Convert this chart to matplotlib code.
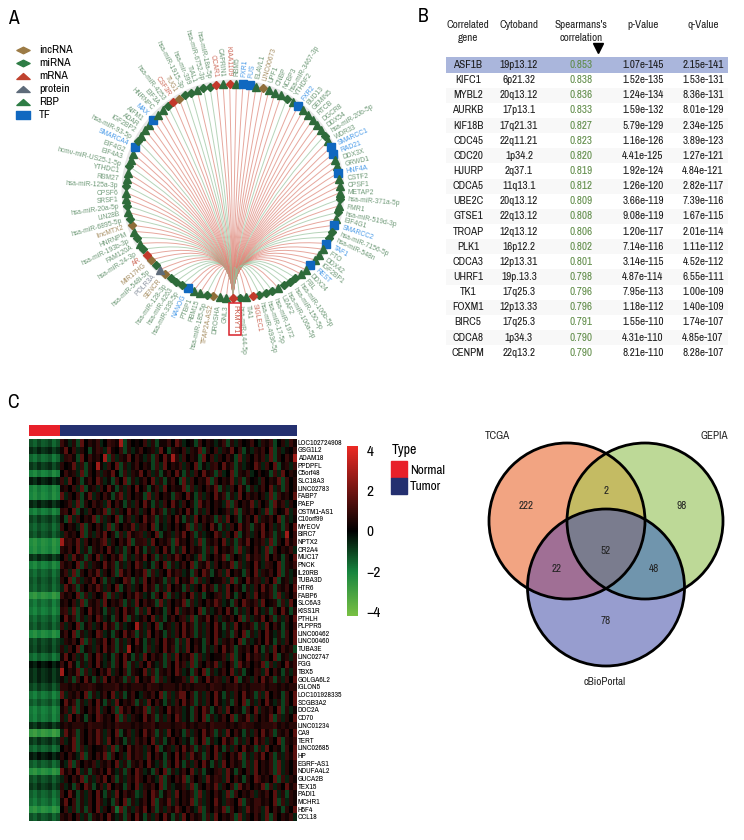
"""Four-panel PKMYT1 figure: network circle, correlation table, heatmap, Venn."""
import numpy as np
import matplotlib
matplotlib.use("Agg")
import matplotlib.pyplot as plt
from matplotlib.colors import LinearSegmentedColormap, ListedColormap, Normalize
from matplotlib.patches import Circle, PathPatch, Rectangle
from matplotlib.path import Path

NARROW = ["Archivo Narrow", "Liberation Sans Narrow", "Liberation Sans", "DejaVu Sans"]
ARIAL = ["Liberation Sans", "DejaVu Sans"]
plt.rcParams["font.family"] = NARROW
import logging
logging.getLogger("matplotlib.font_manager").setLevel(logging.ERROR)

# panel A: nodes clockwise from the hub at the bottom
HUB = "PKMYT1"
NODES = [
    "GNL3", "DROSHA", "TFAP2A-AS2", "hsa-miR-185-5p", "RBM15", "PTBP1", "NANOG",
    "hsa-miR-339-5p", "hsa-miR-4263", "hsa-miR-128-3p", "SENCR", "POLR3A",
    "hsa-miR-548i-5p", "MIR17HG", "AR", "hsa-miR-24-3p", "FAM120A",
    "hsa-miR-193b-3p", "HNRNPM", "lincMTX2", "hsa-miR-6895-5p", "LIN28B",
    "hsa-miR-20a-5p", "SRSF1", "CPSF6", "hsa-miR-125a-3p", "RBM27", "YTHDC1",
    "hcmv-miR-US25-1-5p", "EIF4A3", "EIF4G2", "SMARCA4", "hsa-miR-93-5p",
    "IGF2BP2", "ADAR", "AIFM1", "MAX", "HNRNPC", "EIF3A", "hsa-miR-4253",
    "CSF3R", "TUG1", "hsa-miR-1915-3p", "hsa-mir-399", "TIAL1",
    "hsa-miR-6752-3p", "hsa-miR-18a-5p", "CCAR1", "CAPRIN1", "KIAA1109", "RBM5",
    "FXR1", "FUS", "ELAVL1", "LINC00673", "UPF1", "CNBP", "NCBP3",
    "hsa-miR-3467-3p", "YTHDF2", "FXR2", "BUD13", "GEMIN5", "RTCB", "DGCR8",
    "DDX54", "hsa-miR-20b-5p", "WDR33", "SMARCC1", "RAD21", "DDX3X", "GRWD1",
    "HNF4A", "CSTF2", "CPSF1", "METAP2", "hsa-miR-371a-5p", "FMR1",
    "hsa-miR-519d-3p", "EIF4G1", "SMARCC2", "hsa-miR-7156-5p", "hsa-miR-548n",
    "TAF1", "FTO", "DDX42", "IGF2BP1", "REST", "DDX24", "FBL", "hsa-miR-106b-5p",
    "hsa-miR-150-5p", "hsa-miR-106a-5p", "U2AF2", "hsa-miR-1972", "hsa-miR-17-5p",
    "hsa-miR-4936-5p", "SIGLEC1", "TIA1", "hsa-miR-144-5p",
]
TF_NAMES = {"NANOG", "SMARCA4", "MAX", "FXR1", "FUS", "FXR2", "SMARCC1", "RAD21",
            "HNF4A", "SMARCC2", "TAF1", "REST"}
MRNA_NAMES = {"AR", "CSF3R", "CCAR1", "KIAA1109", "SIGLEC1"}
LNC_NAMES = {"TFAP2A-AS2", "SENCR", "MIR17HG", "lincMTX2", "TUG1", "LINC00673"}
PROTEIN_NAMES = {"POLR3A"}
LEGEND_NAMES = ["incRNA", "miRNA", "mRNA", "protein", "RBP", "TF"]

# panel B
TABLE_HEADERS = [("Correlated", "gene"), ("Cytoband", ""), ("Spearmans's", "correlation"),
                 ("p-Value", ""), ("q-Value", "")]
GENES = ["ASF1B", "KIFC1", "MYBL2", "AURKB", "KIF18B", "CDC45", "CDC20", "HJURP", "CDCA5",
         "UBE2C", "GTSE1", "TROAP", "PLK1", "CDCA3", "UHRF1", "TK1", "FOXM1", "BIRC5",
         "CDCA8", "CENPM"]
CYTOBANDS = ["19p13.12", "6p21.32", "20q13.12", "17p13.1", "17q21.31", "22q11.21", "1p34.2",
             "2q37.1", "11q13.1", "20q13.12", "22q13.12", "12q13.12", "16p12.2", "12p13.31",
             "19p.13.3", "17q25.3", "12p13.33", "17q25.3", "1p34.3", "22q13.2"]
SPEARMAN = [0.853, 0.838, 0.836, 0.833, 0.827, 0.823, 0.820, 0.819, 0.812, 0.809,
            0.808, 0.806, 0.802, 0.801, 0.798, 0.796, 0.796, 0.791, 0.790, 0.790]
P_VALUES = ["1.07e-145", "1.52e-135", "1.24e-134", "1.59e-132", "5.79e-129", "1.16e-126",
            "4.41e-125", "1.92e-124", "1.26e-120", "3.66e-119", "9.08e-119", "1.20e-117",
            "7.14e-116", "3.14e-115", "4.87e-114", "7.95e-113", "1.18e-112", "1.55e-110",
            "4.31e-110", "8.21e-110"]
Q_VALUES = ["2.15e-141", "1.53e-131", "8.36e-131", "8.01e-129", "2.34e-125", "3.89e-123",
            "1.27e-121", "4.84e-121", "2.82e-117", "7.39e-116", "1.67e-115", "2.01e-114",
            "1.11e-112", "4.52e-112", "6.55e-111", "1.00e-109", "1.40e-109", "1.74e-107",
            "4.85e-107", "8.28e-107"]

# panel C
HEAT_GENES = ["LOC102724908", "GSG1L2", "ADAM18", "PPDPFL", "C5orf48", "SLC18A3", "LINC02783",
              "FABP7", "PAEP", "OSTM1-AS1", "C10orf99", "MYEOV", "BIRC7", "NPTX2", "OR2A4",
              "MUC17", "PNCK", "IL20RB", "TUBA3D", "HTR6", "FABP6", "SLC6A3", "KISS1R", "PTHLH",
              "PLPPR5", "LINC00462", "LINC00460", "TUBA3E", "LINC02747", "FGG", "TBX5",
              "GOLGA6L2", "IGLON5", "LOC101928335", "SCGB3A2", "DOC2A", "CD70", "LINC01234",
              "CA9", "TERT", "LINC02685", "HP", "EGRF-AS1", "NDUFA4L2", "GUCA2B", "TEX15",
              "PADI1", "MCHR1", "H5F4", "CCL18"]
NORMAL_LEVEL = [-1.3, -0.7, -1.6, -0.9, -2.0, -0.5, -2.0, -2.1, -0.6, -1.9,
                -1.1, -1.4, -1.2, -2.3, -2.2, -0.8, -2.0, -1.5, -1.3, -1.4,
                -2.5, -1.7, -1.9, -1.5, -1.3, -2.2, -1.1, -1.0, -1.6, -0.3,
                -0.7, -0.7, -1.1, -1.8, -1.4, -1.9, -1.8, -0.7, -2.7, -0.9,
                -1.5, -0.4, -1.4, -2.4, -1.2, -0.9, -1.5, -1.7, -2.4, -1.3]
NORMAL_SAMPLE_SHIFT = [0.1, -0.2, 0.25, -0.1, 0.05, 0.3, -0.25, 0.15]
# tumour cells read by eye, one digit per cell, see TUMOR_SCALE
TUMOR_SCALE = [-2.4, -1.6, -1.0, -0.5, 0.0, 0.35, 0.7, 1.0, 1.6, 2.8]
TUMOR_CELLS = [
    "7536284657 3476592645 4736255748 6345274653 5726364574 3657246375",
    "5847364257 6385472635 7456384265 4736582647 3658472536 5748263547",
    "3675284756 4927365847 5362748596 3746528473 6475283647 5738264759",
    "6458372649 5374826357 4652738465 7364825367 4857263548 6374825637",
    "4756382647 3658427365 8473625748 5263748562 7348265734 6452738465",
    "7384625748 6352748263 5748362574 2837465827 4658372645 3746582746",
    "5647382563 7485263748 4625738465 5827364758 2637485263 5748362746",
    "8364725836 4752683746 5283746527 6485273648 5726384756 4638275648",
    "4573826475 6384752637 4852637485 3746285746 5382746583 7462857364",
    "6748253746 5827364857 3648572635 7485263746 4573826574 6382745836",
    "5283746582 7364825736 4857263748 5263847562 7384625748 3657482635",
    "7465382647 5382746583 6748253647 4582736485 2637485726 5847362748",
    "3756482637 5846273856 7364825637 5847263548 6374825736 4857263947",
    "9675837465 7836475826 6738465728 5647382657 4836275846 5738264857",
    "6574836265 7485362748 5263748526 3847562738 4657283647 5382746573",
    "4738562748 3647582637 5847263758 6475382647 5827463857 6384752648",
    "7564827365 4857263748 6352748263 5748265837 4658273648 5376482657",
    "5738264758 3647285746 5827364857 6352748625 7384652748 3657482635",
    "6482736584 7263548726 3847562738 4658273645 5738264857 6374825637",
    "3857264758 6374825736 4857263846 5273648572 6384752637 4857265748",
    "7564827364 5827364758 6352748263 5748362546 7385264738 4657283647",
    "5647382657 3846572638 4756283746 5827364758 6352748657 3845627384",
    "6738264857 5263748562 7384652748 3657482635 7485263748 5362748526",
    "4857263748 6352748263 5748362574 6738265847 3657482736 5847263748",
    "7364825736 4857263549 6374825637 4857263748 5263846572 6384752647",
    "5748263648 7352648572 6384752637 4857263748 5362748263 7485362748",
    "3657482736 5847263748 5263748562 7384652748 3657482635 7485263748",
    "6374825637 4857263946 5273648572 6384752637 4857265748 5263847562",
    "5847362748 6352748526 3847562738 4658273645 5738264857 6374825637",
    "7485263748 5362748263 7485362748 5738264758 3647285746 5827364857",
    "9465827364 7583647265 4837265748 6352748263 5748362547 6384752637",
    "5362748526 3847562738 4658273645 5738264857 6374825637 4857263748",
    "6656566765 5666756566 6576656665 7565666576 6566756566 6756656566",
    "8365748263 5748362574 3657482736 8847263748 5263748562 7384652748",
    "4857263748 5263846572 6384752637 4857263748 5362748263 7485362748",
    "5738264758 3647285746 5827364857 6352748625 7384652748 3657482635",
    "6384752648 7564827365 4857263748 6352748263 5748265837 4658273648",
    "5656665766 6565766656 5667566656 6756566576 6656567665 5666756566",
    "3857264758 6374825736 4857263846 5273648572 6384752637 4857265748",
    "7358264758 6384752637 5748362574 6352748263 4857263748 5736482657",
    "4658273645 5738264857 6374825637 4857263748 5263748562 7384652748",
    "6475382647 5827463857 6384752648 4738562748 3647582637 5847263758",
    "5382746573 6574836265 7485362748 5263748526 3847562738 4657283647",
    "8574836265 7485362748 6352748263 5748362546 7385264738 4657283647",
    "3647582637 5847263758 6475382647 5827463857 6384752648 7564827365",
    "6352748625 7384652748 3657482635 5738264758 3647285746 5827364857",
    "7485263748 5263847562 3748625738 4657283647 5382746573 6574836265",
    "5847263748 6352748263 5748265837 4658273648 5376482657 7564827365",
    "4737262748 3647182637 5847263758 6475382647 5827463857 6384752648",
    "6574736265 7485362748 5263748526 3847562738 4657283647 5382746573",
]

# panel D: region counts and region colours, index = TCGA + 2 * GEPIA + 4 * cBioPortal
VENN_COUNTS = [222, 98, 2, 78, 22, 48, 52]
VENN_SETS = ["TCGA", "GEPIA", "cBioPortal"]
REGION_COLORS = ["#ffffff", "#f2a482", "#bdd997", "#c4bb63", "#979dcf", "#a06f95", "#7095ad", "#7a7c8e"]

fig = plt.figure(figsize=(7.44, 8.40), dpi=100)


def px_axes(x0, y0, x1, y1, off=True):
    """Axes whose data coordinates are the figure's pixels, y going down."""
    ax = fig.add_axes([x0 / 744, 1 - y1 / 840, (x1 - x0) / 744, (y1 - y0) / 840])
    ax.set_xlim(x0, x1)
    ax.set_ylim(y1, y0)
    if off:
        ax.axis("off")
    return ax


def node_style(name):
    # colour of marker, colour of label, marker, size
    if name in TF_NAMES:
        return "#1068c0", "#4a9be8", "s", 5.4
    if name in MRNA_NAMES:
        return "#c2392b", "#cf6e5e", "D", 3.9
    if name in LNC_NAMES:
        return "#8f6e3a", "#a68e62", "D", 3.9
    if name in PROTEIN_NAMES:
        return "#5e6b7a", "#8a93a0", "^", 5.4
    if name.startswith(("hsa-", "hcmv-")):
        return "#2e6b3a", "#6f9a78", "D", 3.7
    return "#2e6b3a", "#6f9a78", "^", 5.4


canvas = px_axes(0, 0, 744, 840)
for letter, x, y in [("A", 13, 18), ("B", 423, 17), ("C", 13, 402), ("D", 458, 403)]:
    canvas.text(x, y, letter, fontsize=14, ha="center", va="center")

# ---- A: network circle
cx, cy, radius = 233, 191, 107
hub_xy = (cx, cy + radius)
canvas.add_patch(Circle((cx, cy), radius + 1, fill=False, ec="#e6e6e6", lw=5, zorder=1))
step = 360 / (len(NODES) + 1)
for i, name in enumerate(NODES):
    theta = np.radians(-90 - (i + 1) * step)
    nx, ny = cx + radius * np.cos(theta), cy - radius * np.sin(theta)
    mirna = name.startswith(("hsa-", "hcmv-"))
    edge = "#97c29c" if mirna else "#dc8274"
    bend = (cx, cy + 0.42 * radius)
    curve = Path([hub_xy, bend, (nx, ny)], [Path.MOVETO, Path.CURVE3, Path.CURVE3])
    canvas.add_patch(PathPatch(curve, fill=False, ec=edge, lw=0.7, alpha=0.7, zorder=2))

    color, label_color, marker, size = node_style(name)
    canvas.plot(nx, ny, marker=marker, ms=size, color=color, mec=color, zorder=4)
    lx, ly = cx + (radius + 8) * np.cos(theta), cy - (radius + 8) * np.sin(theta)
    deg = np.degrees(theta) % 360
    if 90 < deg < 270:
        rot, ha = deg - 180, "right"
    else:
        rot, ha = deg, "left"
    canvas.text(lx, ly, name, fontsize=4.9, color=label_color, family=ARIAL, rotation=rot,
                rotation_mode="anchor", ha=ha, va="center", zorder=5)

canvas.plot(*hub_xy, marker="D", ms=3.9, color="#c2392b", zorder=5)
canvas.text(cx + 2, cy + radius + 21, HUB, fontsize=5, color="#c9503f", family=ARIAL, rotation=-90,
            ha="center", va="center", zorder=5,
            bbox=dict(boxstyle="square,pad=0.3", fc="white", ec="#d8202a", lw=1.1))

# legend keys are flat versions of the node shapes
FLAT_DIAMOND = Path([(-1, 0), (0, 0.5), (1, 0), (0, -0.5), (-1, 0)], closed=True)
FLAT_TRIANGLE = Path([(-1, -0.45), (0, 0.45), (1, -0.45), (-1, -0.45)], closed=True)
FLAT_SQUARE = Path([(-1, -0.55), (-1, 0.55), (1, 0.55), (1, -0.55), (-1, -0.55)], closed=True)
legend_styles = [(FLAT_DIAMOND, "#9c7b45"), (FLAT_DIAMOND, "#2e7d45"), (FLAT_TRIANGLE, "#c0432f"),
                 (FLAT_TRIANGLE, "#5e6b7a"), (FLAT_TRIANGLE, "#2e7d45"), (FLAT_SQUARE, "#1068c0")]
for i, (label, (mk, col)) in enumerate(zip(LEGEND_NAMES, legend_styles)):
    y = 50 + 13 * i
    canvas.plot(23, y, marker=mk, ms=9.5, color=col, mec=col)
    canvas.text(39, y, label, fontsize=8.5, va="center")

# ---- B: table
table = px_axes(410, 0, 744, 375)
row_h = 15.14
col_x = [468, 519, 581, 643, 703]
for (line1, line2), x in zip(TABLE_HEADERS, col_x):
    table.text(x, 25, line1, fontsize=8, ha="center", va="center", color="#222222")
    if line2:
        table.text(x, 38, line2, fontsize=8, ha="center", va="center", color="#222222")
table.plot(598, 48, marker="v", ms=6.5, color="black")
for i, gene in enumerate(GENES):
    y = 65 + row_h * i
    if i == 0:
        table.barh(y, 282, left=446, height=row_h, color="#aab6dc")
    elif i % 2 == 0:
        table.barh(y, 282, left=446, height=row_h, color="#f8f8f8")
    row = [gene, CYTOBANDS[i], f"{SPEARMAN[i]:.3f}", P_VALUES[i], Q_VALUES[i]]
    for j, (val, x) in enumerate(zip(row, col_x)):
        table.text(x, y, val, fontsize=8, ha="center", va="center",
                   color="#5d8a45" if j == 2 else "#1a1a1a")

# ---- C: heatmap
expr_cmap = LinearSegmentedColormap.from_list(
    "expr", [(0.0, "#78c043"), (0.26, "#17853f"), (0.5, "#000000"), (1.0, "#ec2a24")])
norm = Normalize(-4.2, 4.2)

top = px_axes(29, 425, 297, 436)
top.barh(430.5, 31, left=29, height=11, color="#e8202a")
top.barh(430.5, 237, left=60, height=11, color="#243070")

tumor = np.array([[TUMOR_SCALE[int(c)] for c in row.replace(" ", "")] for row in TUMOR_CELLS])
normal = np.outer(NORMAL_LEVEL, np.ones(len(NORMAL_SAMPLE_SHIFT))) + np.array(NORMAL_SAMPLE_SHIFT)
cells = np.hstack([normal, tumor])
heat = px_axes(29, 439, 297, 821)
edges_x = np.r_[np.linspace(29, 60, normal.shape[1] + 1), np.linspace(60, 297, tumor.shape[1] + 1)[1:]]
edges_y = np.linspace(439, 821, len(HEAT_GENES) + 1)
mesh = heat.pcolormesh(edges_x, edges_y, cells, cmap=expr_cmap, norm=norm, antialiased=False)
for i, gene in enumerate(HEAT_GENES):
    heat.text(298, (edges_y[i] + edges_y[i + 1]) / 2, gene, fontsize=5.6, va="center", ha="left",
              clip_on=False)

cax = fig.add_axes([347 / 744, 1 - 616 / 840, 11 / 744, 170 / 840])
cbar = fig.colorbar(mesh, cax=cax, ticks=[-4, -2, 0, 2, 4])
cbar.outline.set_visible(False)
cbar.ax.tick_params(length=0, labelsize=11, pad=6)

type_ax = px_axes(385, 440, 450, 500)
type_ax.text(392, 450, "Type", fontsize=10, va="center")
type_ax.add_patch(Rectangle((391, 461), 16, 16.5, color="#e8202a"))
type_ax.add_patch(Rectangle((391, 477.5), 16, 16.5, color="#243070"))
type_ax.text(410, 470, "Normal", fontsize=9.5, va="center")
type_ax.text(410, 487, "Tumor", fontsize=9.5, va="center")

# ---- D: Venn
venn = px_axes(450, 390, 744, 700)
circles = [(567, 521, 78), (645, 521, 78), (606, 587.5, 78.5)]
gx, gy = np.meshgrid(np.arange(450, 744, 0.5), np.arange(390, 700, 0.5))
code = np.zeros(gx.shape, dtype=int)
for k, (ccx, ccy, r) in enumerate(circles):
    code += (2 ** k) * ((gx - ccx) ** 2 + (gy - ccy) ** 2 <= r ** 2)
venn.imshow(code, cmap=ListedColormap(REGION_COLORS), vmin=-0.5, vmax=7.5, extent=(450, 744, 700, 390),
            aspect="auto", interpolation="nearest")
for ccx, ccy, r in circles:
    venn.add_patch(Circle((ccx, ccy), r, fill=False, ec="black", lw=2))
for value, x, y in zip(VENN_COUNTS, [526, 682, 606, 606, 557, 654, 606],
                       [506, 506, 491, 621, 569, 569, 551]):
    venn.text(x, y, str(value), fontsize=8, ha="center", va="center", color="#222222")
for name, x, y in zip(VENN_SETS, [497, 714, 605], [436, 436, 682]):
    venn.text(x, y, name, fontsize=8, ha="center", va="center", color="#222222")

fig.savefig("out.png", dpi=100)
